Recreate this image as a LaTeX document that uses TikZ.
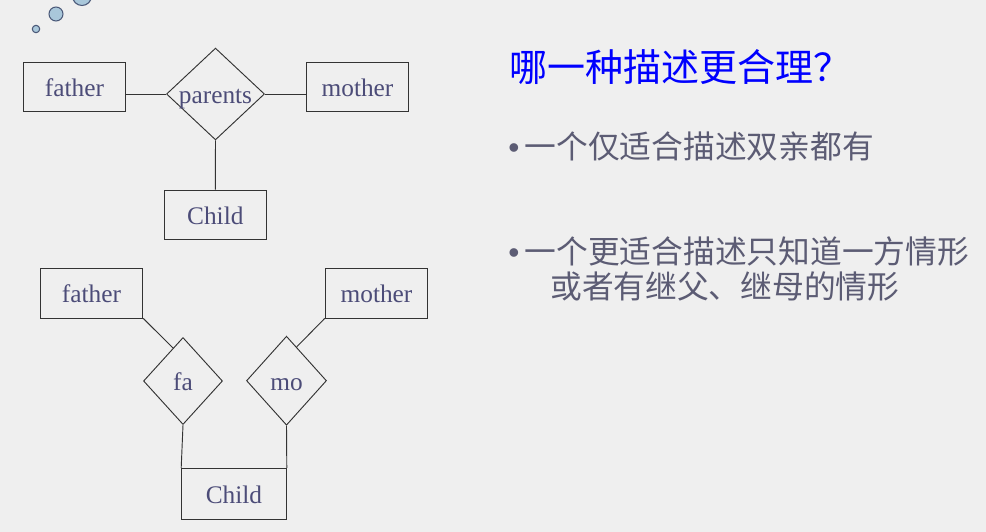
\documentclass[tikz,border=0pt]{standalone}
\usepackage{fontspec}
\setmainfont{Liberation Serif}
\newfontfamily\cjk{Noto Sans CJK SC}
\newfontfamily\dotfont{Liberation Sans}
\usetikzlibrary{shapes.geometric,calc}

\definecolor{paper}{HTML}{EFEFEF}
\definecolor{ink}{HTML}{4C4C78}
\definecolor{textgray}{HTML}{5C5C74}
\definecolor{dotfill}{HTML}{A9C7DA}
\definecolor{dotline}{HTML}{4A5878}

\begin{document}
\begin{tikzpicture}[
    x=0.75pt, y=-0.75pt,
    font=\fontsize{19}{22}\selectfont,
    entity/.style={rectangle,draw=black!80,line width=0.7pt,minimum width=77pt,minimum height=37pt,inner sep=0pt,text=ink,text height=14pt,text depth=0pt},
    relation/.style={diamond,draw=black!80,line width=0.7pt,inner sep=0pt,text=ink,text height=14pt,text depth=0pt},
    line/.style={draw=black!80,line width=0.7pt},
    heading/.style={anchor=west,inner sep=0pt,text=blue,font=\cjk\fontsize{28.5}{32}\selectfont},
    bullet/.style={anchor=west,inner sep=0pt,text=textgray,font=\cjk\fontsize{23.8}{27}\selectfont}
]

\useasboundingbox (0,0) rectangle (986,532);
\clip (0,0) rectangle (986,532);
\fill[paper] (0,0) rectangle (986,532);

% Bubbles
\filldraw[fill=dotfill,draw=dotline,line width=0.8pt] (36,29) circle (3.7);
\filldraw[fill=dotfill,draw=dotline,line width=0.8pt] (56,14) circle (7);
\filldraw[fill=dotfill,draw=dotline,line width=0.8pt] (82,-4) circle (9.5);

% One relation for both parents
\node[entity] (father1) at (74.5,86.8) {father};
\node[relation,minimum width=73.5pt,minimum height=67.5pt] (parents) at (215.5,94) {parents};
\node[entity] (mother1) at (357.5,86.8) {mother};
\node[entity] (child1) at (215.3,214.7) {Child};

\draw[line] (parents.west) -- (parents.west -| father1.east);
\draw[line] (parents.east) -- (parents.east -| mother1.west);
\draw[line] (parents.south) -- (child1.north);

% One relation per parent
\node[entity] (father2) at (91.5,293.3) {father};
\node[entity] (mother2) at (376.5,293.3) {mother};
\node[relation,minimum width=59.25pt,minimum height=65.25pt] (fa) at (183,381) {fa};
\node[relation,minimum width=60pt,minimum height=66.75pt] (mo) at (286.5,380.7) {mo};
\node[entity,minimum width=78.5pt,minimum height=38pt] (child2) at (234,493.7) {Child};

\draw[line] (father2.south east) -- ($(fa.north)!0.25!(fa.west)$);
\draw[line] (mother2.south west) -- ($(mo.north)!0.25!(mo.east)$);
\draw[line] (fa.south) -- (child2.north west);
\draw[line] (mo.south) -- (child2.north east);

% Question and notes
\node[heading] (title) at (509,67.5) {哪一种描述更合理？};
\node[bullet] (item1) at (508,146.5) {{\dotfont•}\,一个仅适合描述双亲都有};
\node[bullet] (item2) at (508,251) {{\dotfont•}\,一个更适合描述只知道一方情形};
\node[bullet] (item2b) at (550,286) {或者有继父、继母的情形};

\end{tikzpicture}
\end{document}
